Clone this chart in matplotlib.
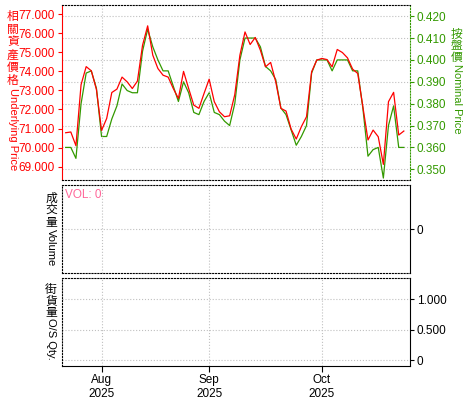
import numpy as np
import pandas as pd
import matplotlib
matplotlib.use("Agg")
import matplotlib.pyplot as plt

plt.rcParams['font.family'] = ['Liberation Sans', 'Noto Sans CJK TC', 'DejaVu Sans']

# trading days (HK), 23 Jul - 27 Oct 2025
holidays = ["2025-10-01", "2025-10-07"]
dates = pd.bdate_range("2025-07-23", "2025-10-27")
dates = dates[~dates.isin(pd.to_datetime(holidays))]

underlying = [70.78, 70.82, 70.10, 73.30, 74.25, 74.03, 73.05, 70.90, 71.53, 72.89,
              73.07, 73.70, 73.45, 73.10, 73.49, 75.37, 76.39, 74.85, 74.15, 73.80,
              73.70, 73.10, 72.58, 74.00, 73.10, 72.23, 72.06, 72.84, 73.59, 72.41,
              71.88, 71.62, 71.67, 72.78, 74.85, 76.07, 75.41, 75.78, 75.11, 74.24,
              74.47, 73.45, 72.06, 71.92, 70.97, 70.45, 71.10, 71.62, 73.98, 74.59,
              74.68, 74.62, 74.24, 75.15, 74.99, 74.71, 74.12, 73.89, 72.14, 70.40,
              70.92, 70.57, 69.12, 72.41, 72.90, 70.66, 70.87]
nominal = [0.360, 0.360, 0.355, 0.380, 0.394, 0.395, 0.387, 0.365, 0.365, 0.373,
           0.379, 0.389, 0.386, 0.385, 0.385, 0.404, 0.414, 0.406, 0.400, 0.395,
           0.395, 0.388, 0.381, 0.390, 0.385, 0.376, 0.375, 0.381, 0.385, 0.376,
           0.375, 0.372, 0.370, 0.380, 0.400, 0.410, 0.410, 0.410, 0.406, 0.397,
           0.395, 0.391, 0.378, 0.375, 0.368, 0.361, 0.365, 0.370, 0.394, 0.400,
           0.400, 0.400, 0.395, 0.400, 0.400, 0.400, 0.395, 0.395, 0.378, 0.356,
           0.359, 0.360, 0.346, 0.370, 0.379, 0.360, 0.360]
volume = 0

left_ticks = [69, 70, 71, 72, 73, 74, 75, 76, 77]
right_ticks = [0.35, 0.36, 0.37, 0.38, 0.39, 0.40, 0.41, 0.42]
os_ticks = [0, 0.5, 1.0]
os_labels = ["0", "0.500", "1.000"]

RED = "#ff0000"
GREEN = "#339900"
GRID = "#c0c0c0"
CJK = ['Noto Sans CJK TC', 'DejaVu Sans']

x = np.arange(len(dates))
month_pos = [i for i in range(1, len(dates)) if dates[i].month != dates[i - 1].month]
month_lab = [dates[i].strftime("%b\n%Y") for i in month_pos]

fig = plt.figure(figsize=(4.75, 4.0), dpi=100)
W, H = 475.0, 400.0


def box(x0, y0, x1, y1):
    return [x0 / W, 1 - y1 / H, (x1 - x0) / W, (y1 - y0) / H]


ax = fig.add_axes(box(62, 4.5, 410, 180))
ax2 = ax.twinx()
ax_v = fig.add_axes(box(62, 185, 410, 273))
ax_o = fig.add_axes(box(62, 278, 410, 366))

xlim = (-0.72, len(dates) + 0.2)

# main panel
ax2.plot(x, nominal, color=GREEN, lw=0.9)
ax.plot(x, underlying, color=RED, lw=0.9)
ax.set_zorder(ax2.get_zorder() + 1)
ax.patch.set_visible(False)
ax.set_xlim(*xlim)
ax.set_ylim(68.30, 77.51)
ax2.set_ylim(0.34511, 0.42534)
ax.set_yticks(left_ticks)
ax.set_yticklabels([f"{v:.3f}" for v in left_ticks])
ax2.set_yticks(right_ticks)
ax2.set_yticklabels([f"{v:.3f}" for v in right_ticks])
ax.tick_params(axis='y', colors=RED, labelcolor=RED, length=3, labelsize=8.5, pad=2)
ax2.tick_params(axis='y', colors=GREEN, labelcolor=GREEN, length=3, labelsize=8.5, pad=2)
ax2.grid(axis='y', color=GRID, linestyle=':', lw=0.8)
ax.set_xticks(month_pos)
ax.grid(axis='x', color=GRID, linestyle=':', lw=0.8)
ax.tick_params(axis='x', length=0, labelbottom=False)
ax.spines['left'].set_color(RED)
ax.spines['right'].set_visible(False)
for s in ['top', 'bottom']:
    ax.spines[s].set_linestyle(':')
    ax2.spines[s].set_visible(False)
ax2.spines['left'].set_visible(False)
ax2.spines['right'].set_color(GREEN)
ax2.spines['right'].set_linestyle(':')

# volume panel
ax_v.set_xlim(*xlim)
ax_v.set_ylim(-1, 1)
ax_v.yaxis.tick_right()
ax_v.set_yticks([0])
ax_v.set_yticklabels(["0"])
ax_v.set_xticks(month_pos)
ax_v.tick_params(axis='x', length=0, labelbottom=False)
ax_v.tick_params(axis='y', length=3, labelsize=8.5, pad=2)
ax_v.grid(color=GRID, linestyle=':', lw=0.8)
for s in ['left', 'top', 'bottom']:
    ax_v.spines[s].set_linestyle(':')
ax_v.text(0.01, 0.95, f"VOL: {volume}", transform=ax_v.transAxes, color="#ff6699",
          fontsize=8.5, ha='left', va='top')

# outstanding qty panel
ax_o.set_xlim(*xlim)
ax_o.set_ylim(-0.093, 1.344)
ax_o.yaxis.tick_right()
ax_o.set_yticks(os_ticks)
ax_o.set_yticklabels(os_labels)
ax_o.set_xticks(month_pos)
ax_o.set_xticklabels(month_lab)
ax_o.tick_params(axis='x', length=4, labelsize=8.5, pad=2)
ax_o.tick_params(axis='y', length=3, labelsize=8.5, pad=2)
ax_o.grid(color=GRID, linestyle=':', lw=0.8)
for s in ['left', 'top']:
    ax_o.spines[s].set_linestyle(':')


def vlabel(xp, yp, cjk, latin, color, step=12.5):
    for k, ch in enumerate(cjk):
        fig.text(xp / W, 1 - (yp + k * step) / H, ch, ha='center', va='top',
                 color=color, fontsize=8.5, family=CJK)
    fig.text(xp / W, 1 - (yp + len(cjk) * step + 1) / H, latin, rotation=-90,
             ha='center', va='top', color=color, fontsize=8)


vlabel(13, 10, "相關資產價格", "Underlying Price", RED, 12.8)
vlabel(457, 28, "按盤價", "Nominal Price", GREEN, 11.5)
vlabel(51, 192, "成交量", "Volume", "black", 12)
vlabel(51, 283, "街貨量", "O/S Qty.", "black", 11.5)

fig.savefig("out.png", dpi=100)
